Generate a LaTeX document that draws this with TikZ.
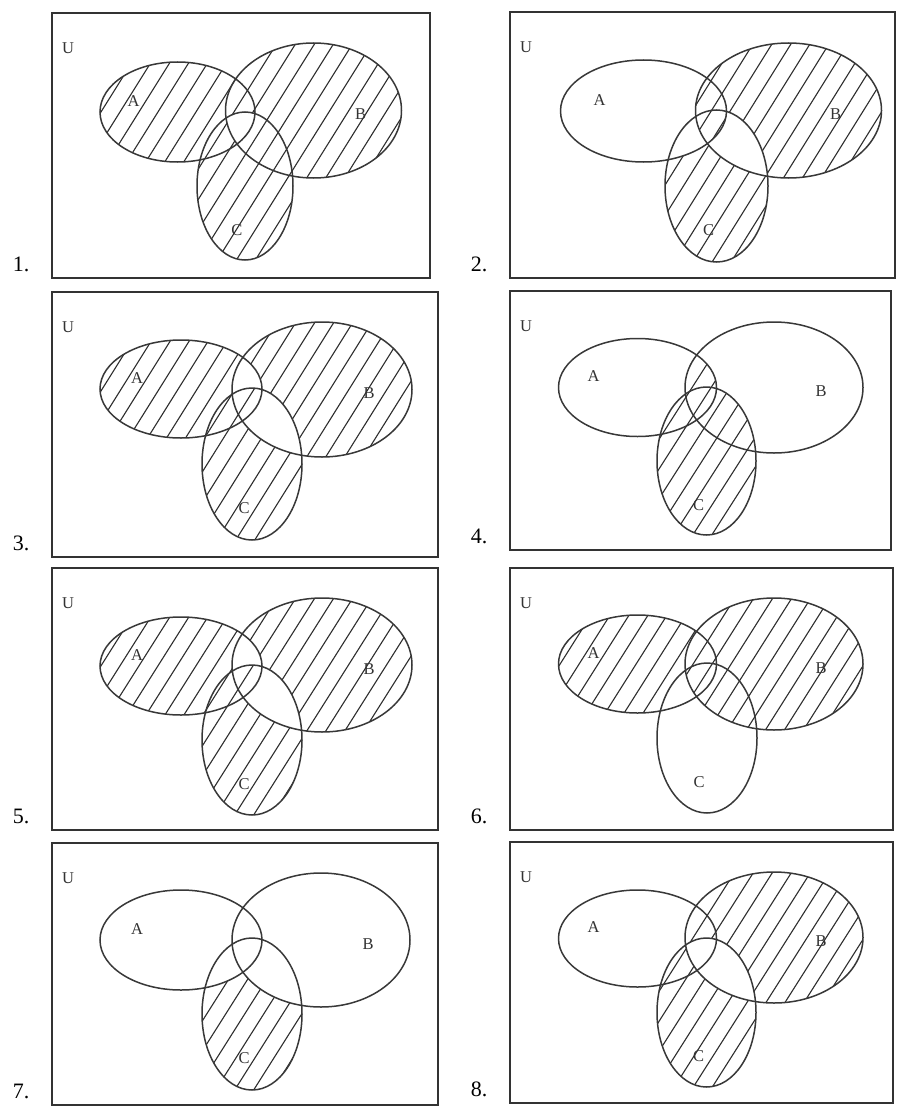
\documentclass[tikz,border=0pt]{standalone}
\usepackage{fontspec}
\setmainfont{Liberation Serif}
\tikzset{
  outline/.style={draw=black!78, line width=1.5pt},
  boxline/.style={draw=black!80, line width=1.5pt},
  hatchline/.style={draw=black!82, line width=1.1pt},
  setlabel/.style={font=\fontsize{16.5}{16.5}\selectfont, text=black!80, inner sep=0pt},
  numlabel/.style={font=\fontsize{22}{22}\selectfont, text=black, inner sep=0pt},
}
\newcommand\geomA[4]{\def\Ax{#1}\def\Ay{#2}\def\Arx{#3}\def\Ary{#4}}
\newcommand\geomB[4]{\def\Bx{#1}\def\By{#2}\def\Brx{#3}\def\Bry{#4}}
\newcommand\geomC[4]{\def\Cx{#1}\def\Cy{#2}\def\Crx{#3}\def\Cry{#4}}
\newcommand\pEllA{(\Ax,\Ay) ellipse [x radius=\Arx pt, y radius=\Ary pt]}
\newcommand\pEllB{(\Bx,\By) ellipse [x radius=\Brx pt, y radius=\Bry pt]}
\newcommand\pEllC{(\Cx,\Cy) ellipse [x radius=\Crx pt, y radius=\Cry pt]}
\newcommand\inA{\clip \pEllA;}
\newcommand\inB{\clip \pEllB;}
\newcommand\inC{\clip \pEllC;}
% outer frame clockwise on the page, ellipse counter-clockwise: the ellipse is cut out
\newcommand\frm{(-20,-20) -- (\W+20,-20) -- (\W+20,\H+20) -- (-20,\H+20) -- cycle}
\newcommand\outA{\clip \frm (\Ax+\Arx,\Ay) arc [start angle=0, end angle=360, x radius=\Arx pt, y radius=\Ary pt] -- cycle;}
\newcommand\outB{\clip \frm (\Bx+\Brx,\By) arc [start angle=0, end angle=360, x radius=\Brx pt, y radius=\Bry pt] -- cycle;}
\newcommand\outC{\clip \frm (\Cx+\Crx,\Cy) arc [start angle=0, end angle=360, x radius=\Crx pt, y radius=\Cry pt] -- cycle;}
\newcommand\rAo{\inA\outB\outC}
\newcommand\rBo{\inB\outA\outC}
\newcommand\rCo{\inC\outA\outB}
\newcommand\rABo{\inA\inB\outC}
\newcommand\rACo{\inA\inC\outB}
\newcommand\rBCo{\inB\inC\outA}
\newcommand\rABC{\inA\inB\inC}
\newcommand\hatchall{\foreach \k in {0,...,32} {\draw[hatchline] (\k*19-172,\H+5) -- (\k*19,-5);}}
% #1 x0, #2 y0, #3 W, #4 H, #5 number
\newcommand\panel[5]{%
\begin{scope}[shift={(#1,#2)}]
  \def\W{#3}\def\H{#4}
  \foreach \rg in \regions {\begin{scope}\csname r\rg\endcsname \hatchall\end{scope}}
  \draw[outline] \pEllA;
  \draw[outline] \pEllB;
  \draw[outline] \pEllC;
  \draw[boxline] (0,0) rectangle (\W,\H);
  \node[setlabel] (U#5) at (16,35) {U};
  \node[setlabel] (A#5) at (\Ax-44,\Ay-11) {A};
  \node[setlabel] (B#5) at (\Bx+47,\By+4) {B};
  \node[setlabel] (C#5) at (\Cx-8,\Cy+44) {C};
  \node[numlabel] (n#5) at (-31,\H-14) {#5.};
\end{scope}}
\begin{document}
\begin{tikzpicture}[x=1pt,y=-1pt]
\useasboundingbox (0,0) rectangle (897,1108);
\fill[white] (0,0) rectangle (897,1108);
% Panel 1
\geomA{125.5}{99}{77.5}{50}\geomB{261.5}{97.5}{88}{67.5}\geomC{193}{173}{48}{74}
\def\regions{Ao,Bo,Co,ABo,ACo,BCo}
\panel{52}{13}{378}{265}{1}
% Panel 2
\geomA{133.5}{99}{83}{51}\geomB{278.5}{98.5}{93}{67.5}\geomC{206.5}{174}{51.5}{76}
\def\regions{Bo,Co,ABo,ABC}
\panel{510}{12}{385}{266}{2}
% Panel 3
\geomA{129}{97}{81}{49}\geomB{270}{97.5}{90}{67.5}\geomC{200}{172}{50}{76}
\def\regions{Ao,Bo,Co,ACo,ABC}
\panel{52}{292}{386}{265}{3}
% Panel 4
\geomA{127.5}{96.5}{79}{49}\geomB{264}{96.5}{89}{65.5}\geomC{196.5}{170}{49.5}{74}
\def\regions{Co,ABo,ACo,BCo,ABC}
\panel{510}{291}{381}{259}{4}
% Panel 5
\geomA{129}{98}{81}{49}\geomB{270}{97}{90}{67}\geomC{200}{172}{50}{75}
\def\regions{Ao,Bo,Co,ACo,ABC}
\panel{52}{568}{386}{262}{5}
% Panel 6
\geomA{127.5}{96}{79}{49}\geomB{264}{96}{89}{66}\geomC{197}{170}{50}{75}
\def\regions{Ao,Bo,ABo,ABC,BCo}
\panel{510}{568}{383}{262}{6}
% Panel 7
\geomA{129}{97}{81}{50}\geomB{269}{97}{89}{67}\geomC{200}{171}{50}{76}
\def\regions{Co}
\panel{52}{843}{386}{262}{7}
% Panel 8
\geomA{127.5}{96.5}{79}{48.5}\geomB{264}{95.5}{89}{65.5}\geomC{196.5}{170.5}{49.5}{74.5}
\def\regions{Bo,Co,ABo,ACo}
\panel{510}{842}{383}{261}{8}
\end{tikzpicture}
\end{document}
